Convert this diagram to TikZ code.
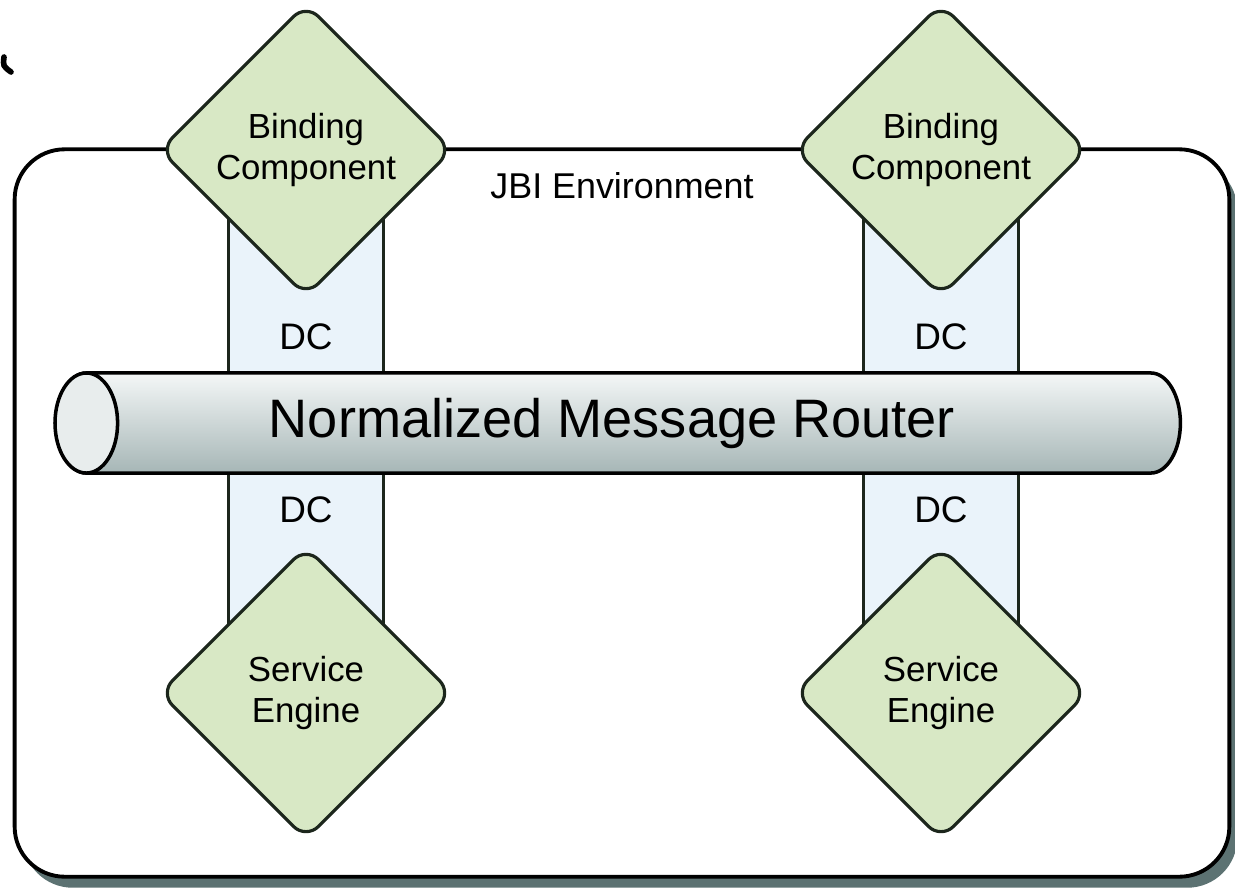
\documentclass[tikz,border=0pt]{standalone}
\usepackage{fontspec}
\setmainfont{Liberation Sans}
\usepackage{tikz}
\usetikzlibrary{positioning, calc, shapes.geometric, shadows}
\definecolor{enginegreen}{RGB}{216,232,197}
\definecolor{engineline}{RGB}{28,38,28}
\definecolor{dcblue}{RGB}{234,243,250}
\definecolor{routertop}{RGB}{244,247,247}
\definecolor{routermid}{RGB}{222,229,229}
\definecolor{routerbottom}{RGB}{166,182,182}
\definecolor{routerend}{RGB}{232,237,237}
\definecolor{shadowgray}{RGB}{92,114,114}
\tikzset{
	every text node part/.style= {
		align=center
	},
	envbox/.style= {
		rectangle,
		rounded corners=0.5cm,
		draw,
		line width=1.1pt,
		fill=white,
		minimum width=12.14cm,
		minimum height=7.27cm,
		drop shadow={shadow xshift=0.08cm, shadow yshift=-0.11cm, fill=shadowgray, opacity=1}
	},
	envtext/.style= {
		font=\fontsize{10.2}{12}\selectfont
	},
	engine/.style= {
		diamond,
		aspect=1,
		draw=engineline,
		line width=0.9pt,
		fill=enginegreen,
		rounded corners=5pt,
		inner sep=0pt,
		minimum width=2.93cm,
		minimum height=2.93cm,
		font=\fontsize{9.9}{11.4}\selectfont
	},
	channel/.style= {
		rectangle,
		draw=engineline,
		line width=0.9pt,
		fill=dcblue,
		minimum width=1.55cm,
		minimum height=4.4cm
	},
	dclabel/.style= {
		font=\fontsize{10.5}{12}\selectfont
	},
	router/.style= {
		cylinder,
		shape border rotate=180,
		inner sep=4pt,
		aspect=2.1,
		draw,
		line width=1pt,
		top color=routertop,
		middle color=routermid,
		bottom color=routerbottom,
		minimum width=1cm,
		minimum height=11.23cm
	},
	routertext/.style= {
		font=\fontsize{15.4}{18}\selectfont
	},
	endface/.style= {
		draw,
		line width=1pt,
		fill=routerend
	}
}

\begin{document}
\begin{tikzpicture}[x=0.01cm, y=-0.01cm]
	\useasboundingbox (0,0) rectangle (1235,890);
	\node (jbi)[envbox] at (622,513) {};
	\node (envlabel)[envtext] at (622,186) {JBI Environment};
	\draw[line width=1.6pt, line cap=round] (4,57) .. controls (3,66) .. (11,72);
	
	\foreach \side/\x in {left/306, right/941}
	{
		\node (dc\side)[channel] at (\x,420) {};
		\node (dctop\side)[dclabel] at (\x,337) {DC};
		\node (dcbot\side)[dclabel] at (\x,510) {DC};
		\node (bc\side)[engine] at (\x,150) {Binding\\Component};
		\node (se\side)[engine] at (\x,693) {Service\\Engine};
	}
	
	\node (nmr)[router, anchor=top] at (55,423) {};
	\draw[endface] let \p1 = ($(nmr.before top)!0.5!(nmr.after top)$), \p2 = (nmr.top) in
		(\p1) ellipse [x radius={abs(\x1-\x2)}, y radius=0.5cm];
	\node (nmrtext)[routertext] at (612,423) {Normalized Message Router};
\end{tikzpicture}
\end{document}
